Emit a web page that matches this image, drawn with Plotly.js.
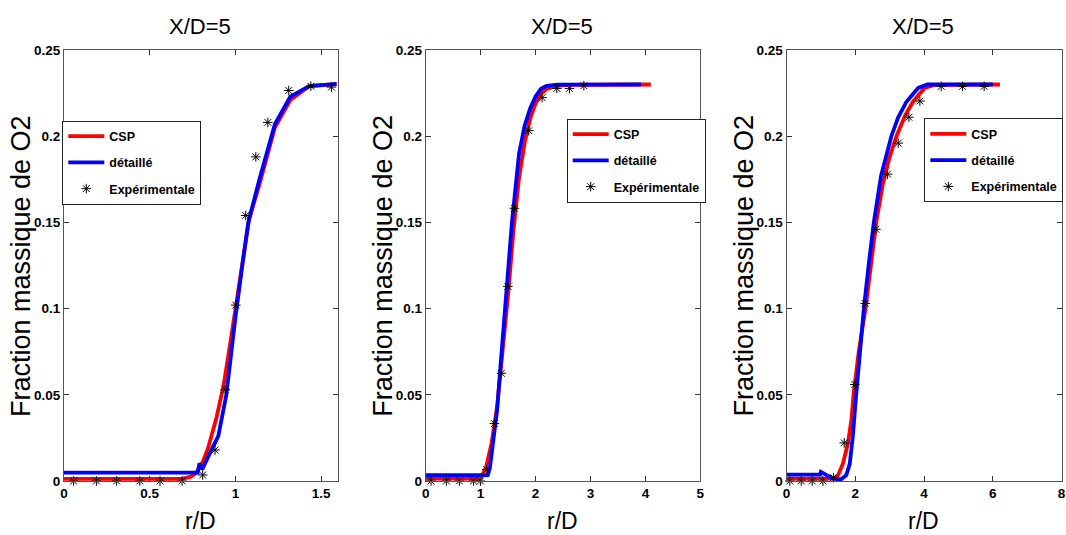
<!DOCTYPE html>
<html>
<head>
<meta charset="utf-8">
<script src="https://cdn.plot.ly/plotly-3.0.1.min.js"></script>
<style>html,body{margin:0;padding:0;background:#fff;}#chart{width:1066px;height:535px;}</style>
</head>
<body>
<div id="chart"></div>
<script>
// ---------- data ----------
const titleText = "X/D=5";
const xLabel = "r/D";
const yLabel = "Fraction massique de O2";
const seriesNames = ["CSP", "détaillé", "Expérimentale"];

// Panel 1
const p1_csp_x = [0, 0.69, 0.74, 0.77, 0.81, 0.84, 0.89, 0.93, 0.97, 1.0, 1.04, 1.08, 1.14, 1.23, 1.32, 1.43, 1.59];
const p1_csp_y = [0.0012, 0.0012, 0.0025, 0.0045, 0.0112, 0.019, 0.037, 0.055, 0.08, 0.1, 0.128, 0.152, 0.172, 0.205, 0.221, 0.229, 0.2302];
const p1_det_x = [0, 0.78, 0.79, 0.807, 0.85, 0.9, 0.947, 0.97, 1.0, 1.04, 1.075, 1.14, 1.23, 1.32, 1.43, 1.59];
const p1_det_y = [0.0048, 0.0048, 0.0102, 0.0068, 0.016, 0.026, 0.05, 0.07, 0.095, 0.125, 0.15, 0.175, 0.207, 0.223, 0.229, 0.2303];
const p1_exp_x = [0.056, 0.189, 0.307, 0.442, 0.560, 0.689, 0.809, 0.881, 0.940, 1.002, 1.060, 1.119, 1.189, 1.311, 1.440, 1.560];
const p1_exp_y = [0, 0, 0, 0, 0, 0, 0.0035, 0.018, 0.053, 0.102, 0.154, 0.188, 0.208, 0.2265, 0.229, 0.2285];

// Panel 2
const p2_csp_x = [0, 1.0, 1.1, 1.2, 1.3, 1.4, 1.5, 1.6, 1.7, 1.8, 1.9, 2.0, 2.1, 2.2, 2.4, 2.6, 4.1];
const p2_csp_y = [0.0014, 0.0014, 0.008, 0.022, 0.043, 0.073, 0.108, 0.146, 0.176, 0.196, 0.21, 0.219, 0.2245, 0.2275, 0.2292, 0.2298, 0.2300];
const p2_det_x = [0, 1.13, 1.17, 1.22, 1.3, 1.35, 1.45, 1.57, 1.7, 1.8, 1.9, 2.0, 2.1, 2.2, 2.4, 3.92];
const p2_det_y = [0.0034, 0.0034, 0.008, 0.02, 0.041, 0.062, 0.1, 0.15, 0.19, 0.206, 0.216, 0.223, 0.2275, 0.2292, 0.2299, 0.2300];
const p2_exp_x = [0.097, 0.377, 0.614, 0.869, 0.996, 1.112, 1.251, 1.379, 1.495, 1.616, 1.877, 2.120, 2.388, 2.618, 2.880];
const p2_exp_y = [0, 0, 0, 0, 0, 0.0067, 0.0333, 0.0625, 0.1129, 0.1582, 0.2032, 0.2224, 0.2277, 0.2277, 0.2293];

// Panel 3
const p3_csp_x = [0, 1.4, 1.5, 1.64, 1.79, 1.89, 1.95, 2.1, 2.3, 2.45, 2.61, 2.8, 3.0, 3.2, 3.45, 3.68, 4.02, 4.3, 6.21];
const p3_csp_y = [0.0014, 0.0014, 0.0034, 0.01, 0.022, 0.036, 0.05, 0.075, 0.1, 0.125, 0.15, 0.172, 0.188, 0.2, 0.212, 0.22, 0.228, 0.2298, 0.2300];
const p3_det_x = [0, 0.98, 1.0, 1.35, 1.59, 1.74, 1.84, 1.93, 2.01, 2.12, 2.25, 2.4, 2.54, 2.75, 3.05, 3.25, 3.49, 3.83, 4.1, 6.0];
const p3_det_y = [0.0037, 0.0037, 0.0053, 0.0014, 0.001, 0.0034, 0.01, 0.026, 0.046, 0.073, 0.1, 0.127, 0.15, 0.177, 0.2, 0.211, 0.22, 0.228, 0.2300, 0.2300];
const p3_exp_x = [0.097, 0.43, 0.75, 1.06, 1.37, 1.68, 1.99, 2.29, 2.60, 2.94, 3.25, 3.56, 3.88, 4.50, 5.12, 5.75];
const p3_exp_y = [0, 0, 0, 0, 0.002, 0.0221, 0.056, 0.103, 0.146, 0.178, 0.196, 0.211, 0.2204, 0.2289, 0.2289, 0.2289];

const xRanges = [[0, 1.6], [0, 5], [0, 8]];
const xDticks = [0.5, 1, 2];
const yRange = [0, 0.25];
const yDtick = 0.05;

// ---------- build ----------
const W = 1066, H = 535;
const px = v => v / W;
const py = v => 1 - v / H;
const plotLeft = [64, 425.7, 786.5];
const plotRight = [338.3, 700.3, 1061.5];
const plotTop = 50, plotBottom = 481;
const legendPos = [[62.3, 120.5], [566.7, 118.5], [924.3, 118.3]];

const panels = [
  [p1_csp_x, p1_csp_y, p1_det_x, p1_det_y, p1_exp_x, p1_exp_y],
  [p2_csp_x, p2_csp_y, p2_det_x, p2_det_y, p2_exp_x, p2_exp_y],
  [p3_csp_x, p3_csp_y, p3_det_x, p3_det_y, p3_exp_x, p3_exp_y]
];

const REG = "Liberation Sans, Arial, sans-serif";

const traces = [];
const layout = {
  width: W, height: H,
  margin: {l: 0, r: 0, t: 0, b: 0, pad: 0},
  paper_bgcolor: "#fff", plot_bgcolor: "#fff",
  showlegend: true,
  annotations: []
};

panels.forEach((p, i) => {
  const n = i === 0 ? "" : String(i + 1);
  const xa = "x" + n, ya = "y" + n;
  const lg = "legend" + n;
  traces.push({x: p[0], y: p[1], xaxis: xa, yaxis: ya, type: "scatter", mode: "lines",
    name: seriesNames[0], legend: lg, legendgroup: "a" + i,
    line: {color: "#ff0000", width: 3.8}});
  traces.push({x: p[2], y: p[3], xaxis: xa, yaxis: ya, type: "scatter", mode: "lines",
    name: seriesNames[1], legend: lg, legendgroup: "b" + i,
    line: {color: "#0000ff", width: 3.8}});
  traces.push({x: p[4], y: p[5], xaxis: xa, yaxis: ya, type: "scatter", mode: "markers",
    name: seriesNames[2], legend: lg, legendgroup: "c" + i, cliponaxis: false,
    marker: {symbol: "asterisk-open", size: 8, color: "#000", line: {color: "#000", width: 1}}});

  const axCommon = {
    showgrid: false, zeroline: false, showline: true, linecolor: "#555", linewidth: 1,
    mirror: "allticks", ticks: "inside", ticklen: 5, tickcolor: "#333",
    tickfont: {family: REG, size: 13.5, color: "#000", weight: "bold"}
  };
  layout["xaxis" + n] = Object.assign({}, axCommon, {
    domain: [px(plotLeft[i]), px(plotRight[i])], anchor: ya,
    range: xRanges[i], dtick: xDticks[i], tick0: 0
  });
  layout["yaxis" + n] = Object.assign({}, axCommon, {
    domain: [py(plotBottom), py(plotTop)], anchor: xa,
    range: yRange, dtick: yDtick, tick0: 0
  });
  layout[lg] = {
    x: px(legendPos[i][0]), y: py(legendPos[i][1]), xanchor: "left", yanchor: "top",
    xref: "paper", yref: "paper",
    bgcolor: "#fff", bordercolor: "#222", borderwidth: 1,
    font: {family: REG, size: 12.5, color: "#000", weight: "bold"},
    itemwidth: 36, tracegroupgap: 7, traceorder: "grouped"
  };
  const cx = (plotLeft[i] + plotRight[i]) / 2;
  layout.annotations.push({text: titleText, xref: "paper", yref: "paper", x: px(cx - 1), y: py(26.3),
    xanchor: "center", yanchor: "middle", showarrow: false,
    font: {family: REG, size: 22, color: "#000"}});
  layout.annotations.push({text: xLabel, xref: "paper", yref: "paper", x: px(cx - 1), y: py(521),
    xanchor: "center", yanchor: "middle", showarrow: false,
    font: {family: REG, size: 23, color: "#000"}});
  layout.annotations.push({text: yLabel, xref: "paper", yref: "paper", x: px(plotLeft[i] - 43), y: py(266),
    xanchor: "center", yanchor: "middle", showarrow: false, textangle: -90,
    font: {family: REG, size: 27, color: "#000"}});
});

Plotly.newPlot("chart", traces, layout, {staticPlot: true, displayModeBar: false});
</script>
</body>
</html>
